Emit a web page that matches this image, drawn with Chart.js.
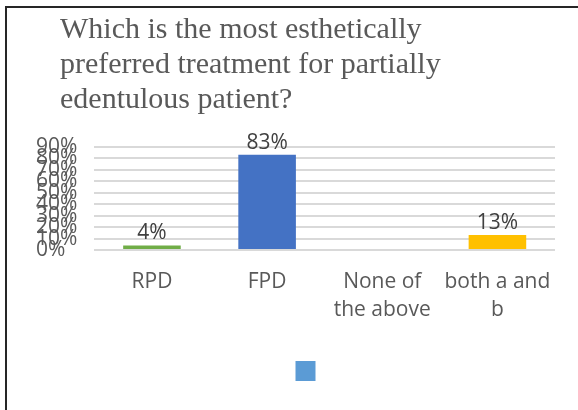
<!DOCTYPE html>
<html>
<head>
<meta charset="utf-8">
<script src="https://cdn.jsdelivr.net/npm/chart.js@4.4.1/dist/chart.umd.min.js"></script>
<style>
  html, body { margin: 0; padding: 0; background: #fff; }
  #wrap { position: relative; width: 578px; height: 410px; overflow: hidden; }
  /* the slide frame only shows its left and top edges */
  #frame { position: absolute; left: 5px; top: 6px; width: 700px; height: 500px;
           border-left: 2px solid #262626; border-top: 2px solid #262626; }
  #chart { position: absolute; left: 0; top: 0; }
</style>
</head>
<body>
<div id="wrap">
  <div id="frame"></div>
  <canvas id="chart" width="578" height="410"></canvas>
</div>
<script>
// data
var titleLines = ["Which is the most esthetically", "preferred treatment for partially", "edentulous patient?"];
var categories = ["RPD", "FPD", ["None of", "the above"], ["both a and", "b"]];
var percents = [4, 83, 0, 13];
var tickValues = [0, 10, 20, 30, 40, 50, 60, 70, 80, 90];

var barColors = ["#70ad47", "#4472c4", "#a5a5a5", "#ffc000"];
var seriesColor = "#5b9bd5";
var textColor = "#595959";

// title starts further right than the axis labels, legend square sits right of centre
var nudge = {
  id: "nudge",
  afterLayout: function (chart) {
    chart.titleBlock.left += 24;
    chart.legend.left += 13;
    chart.legend.right += 13;
  }
};

// value labels above the bars
var barLabels = {
  id: "barLabels",
  afterDatasetsDraw: function (chart) {
    var ctx = chart.ctx;
    var meta = chart.getDatasetMeta(0);
    ctx.save();
    ctx.font = '21px "Open Sans"';
    ctx.fillStyle = "#404040";
    ctx.textAlign = "center";
    ctx.textBaseline = "alphabetic";
    meta.data.forEach(function (bar, i) {
      if (!percents[i]) return; // empty cell, no label
      ctx.fillText(percents[i] + "%", bar.x, bar.y - 6);
    });
    ctx.restore();
  }
};

const myChart = new Chart("chart", {
  type: "bar",
  data: {
    labels: categories,
    datasets: [{
      label: "",
      data: percents,
      backgroundColor: barColors,
      borderWidth: 0,
      barPercentage: 0.5,
      categoryPercentage: 1
    }]
  },
  options: {
    responsive: false,
    animation: false,
    layout: { padding: { left: 36, right: 23, top: 13, bottom: 19 } },
    plugins: {
      tooltip: { enabled: false },
      title: {
        display: true,
        text: titleLines,
        align: "start",
        color: textColor,
        font: { family: '"Liberation Serif", "Times New Roman", serif', size: 30, weight: "normal", lineHeight: 1.1667 },
        padding: { top: 0, bottom: 28.7 }
      },
      legend: {
        display: true,
        position: "bottom",
        labels: {
          boxWidth: 20,
          boxHeight: 20,
          padding: 19,
          font: { size: 12 },
          generateLabels: function () {
            return [{ text: "", fillStyle: seriesColor, strokeStyle: seriesColor, lineWidth: 0, hidden: false, datasetIndex: 0 }];
          }
        },
        onClick: function () {}
      }
    },
    scales: {
      x: {
        grid: { display: false, drawTicks: false },
        border: { display: false },
        ticks: {
          color: textColor,
          padding: 18,
          maxRotation: 0,
          autoSkip: false,
          font: { family: '"Open Sans"', size: 21, lineHeight: 1.333 }
        }
      },
      y: {
        min: 0,
        max: 90,
        afterBuildTicks: function (scale) {
          scale.ticks = tickValues.map(function (v) { return { value: v }; });
        },
        grid: { color: "#d9d9d9", lineWidth: 2, drawTicks: false },
        border: { display: false },
        ticks: {
          color: textColor,
          autoSkip: false,
          crossAlign: "far",
          padding: 8.5,
          font: { family: '"Open Sans"', size: 21 },
          callback: function (v) { return v + "%"; }
        }
      }
    }
  },
  plugins: [nudge, barLabels]
});
</script>
</body>
</html>
